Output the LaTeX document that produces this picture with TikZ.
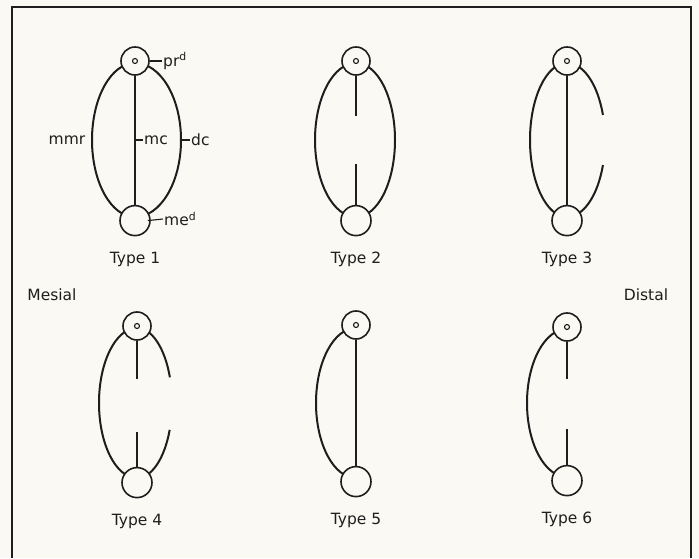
\documentclass[tikz,border=0pt]{standalone}
\usepackage{fontspec}
\setmainfont{DejaVu Sans}
\usetikzlibrary{positioning}

\definecolor{paper}{RGB}{250,249,243}
\definecolor{ink}{RGB}{30,30,30}

\begin{document}
\begin{tikzpicture}[x=1pt, y=1pt,
        cusp/.style={circle, draw=ink, fill=paper, line width=1.6pt, minimum size=28pt, inner sep=0pt},
        basin/.style={cusp, minimum size=30pt},
        pit/.style={circle, draw=ink, line width=1.1pt, minimum size=5pt, inner sep=0pt},
        ridge/.style={draw=ink, line width=2pt},
        tick/.style={draw=ink, line width=1.1pt},
        lab/.style={font=\fontsize{15.5}{18}\selectfont, text=ink},
        tag/.style={lab, anchor=west, inner sep=1pt},
        node distance=129pt]
      \fill[paper] (0,0) rectangle (699,558);
      \useasboundingbox (0,0) rectangle (699,558);
      \draw[ink, line width=2.5pt] (12,0) -- (12,551) -- (691,551) -- (691,0);

      % Type 1
      \coordinate (m1) at (135,418);
      \draw[ridge] (m1) ++(90:43 and 77) arc[start angle=90, end angle=270, x radius=43, y radius=77];
      \draw[ridge] (m1) ++(90:46 and 77) arc[start angle=90, end angle=-90, x radius=46, y radius=77];
      \node[cusp] (t1) at (135,497) {};
      \node[pit] (p1) at (t1) {};
      \node[basin, below=of t1] (b1) {};
      \draw[ridge] (t1.south) -- (b1.north);
      \node[tag] (prd) at (162,497) {pr\textsuperscript{d}};
      \node[tag] (med) at (163,339) {me\textsuperscript{d}};
      \node[tag] (mc) at (143,418) {mc};
      \node[tag] (dc) at (190,418) {dc};
      \node[lab] (mmr) at (67,418) {mmr};
      \draw[tick] (t1.east) -- (prd.west);
      \draw[tick] ([xshift=-3pt]b1.east) -- (med.west);
      \draw[tick] (mc.west) -- ++(-7,0);
      \draw[tick] (dc.west) -- ++(-8,0);
      \node[lab, below=12pt of b1] (ty1) {Type 1};

      % Type 2
      \coordinate (m2) at (356,418);
      \draw[ridge] (m2) ++(90:41 and 77) arc[start angle=90, end angle=270, x radius=41, y radius=77];
      \draw[ridge] (m2) ++(90:39 and 77) arc[start angle=90, end angle=-90, x radius=39, y radius=77];
      \node[cusp] (t2) at (356,497) {};
      \node[pit] (p2) at (t2) {};
      \node[basin, below=of t2] (b2) {};
      \draw[ridge] (t2.south) -- ++(0,-40);
      \draw[ridge] (b2.north) -- ++(0,41);
      \node[lab, below=12pt of b2] (ty2) {Type 2};

      % Type 3
      \coordinate (m3) at (567,418);
      \draw[ridge] (m3) ++(90:37 and 77) arc[start angle=90, end angle=270, x radius=37, y radius=77];
      \draw[ridge] (m3) ++(90:38 and 77) arc[start angle=90, end angle=19, x radius=38, y radius=77];
      \draw[ridge] (m3) ++(-19:38 and 77) arc[start angle=-19, end angle=-90, x radius=38, y radius=77];
      \node[cusp] (t3) at (567,497) {};
      \node[pit] (p3) at (t3) {};
      \node[basin, below=of t3] (b3) {};
      \draw[ridge] (t3.south) -- (b3.north);
      \node[lab, below=12pt of b3] (ty3) {Type 3};

      \node[lab] (mes) at (52,263) {Mesial};
      \node[lab] (dis) at (646,263) {Distal};

      % Type 4
      \coordinate (m4) at (137,155);
      \draw[ridge] (m4) ++(90:38 and 75) arc[start angle=90, end angle=270, x radius=38, y radius=75];
      \draw[ridge] (m4) ++(90:35 and 75) arc[start angle=90, end angle=20, x radius=35, y radius=75];
      \draw[ridge] (m4) ++(-21:35 and 75) arc[start angle=-21, end angle=-90, x radius=35, y radius=75];
      \node[cusp] (t4) at (137,232) {};
      \node[pit] (p4) at (t4) {};
      \node[basin, below=126pt of t4] (b4) {};
      \draw[ridge] (t4.south) -- ++(0,-38);
      \draw[ridge] (b4.north) -- ++(0,35);
      \node[lab, below=12pt of b4] (ty4) {Type 4};

      % Type 5
      \coordinate (m5) at (356,155);
      \draw[ridge] (m5) ++(90:40 and 75) arc[start angle=90, end angle=270, x radius=40, y radius=75];
      \node[cusp] (t5) at (356,233) {};
      \node[pit] (p5) at (t5) {};
      \node[basin, below=126pt of t5] (b5) {};
      \draw[ridge] (t5.south) -- (b5.north);
      \node[lab, below=12pt of b5] (ty5) {Type 5};

      % Type 6
      \coordinate (m6) at (567,155);
      \draw[ridge] (m6) ++(90:40 and 74) arc[start angle=90, end angle=270, x radius=40, y radius=74];
      \node[cusp] (t6) at (567,231) {};
      \node[pit] (p6) at (t6) {};
      \node[basin, below=123pt of t6] (b6) {};
      \draw[ridge] (t6.south) -- ++(0,-37);
      \draw[ridge] (b6.north) -- ++(0,36);
      \node[lab, below=12pt of b6] (ty6) {Type 6};
    \end{tikzpicture}
\end{document}
